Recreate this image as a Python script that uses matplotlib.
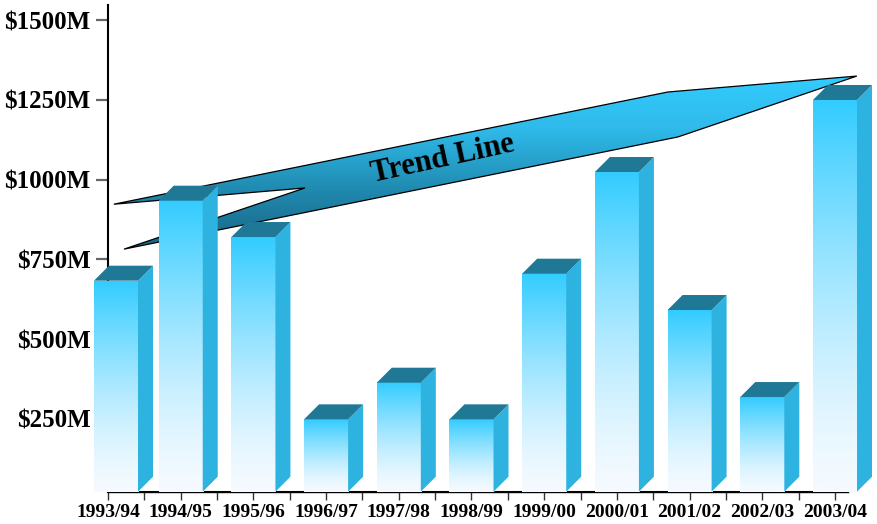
"""
Annual spend by season, drawn as pseudo-3D columns with a ribbon trend band.
"""

import matplotlib
matplotlib.use('Agg')
import matplotlib.pyplot as plt
import numpy as np
from matplotlib.colors import LinearSegmentedColormap
from matplotlib.patches import Polygon

plt.rcParams['font.family'] = ['Liberation Serif', 'DejaVu Serif']

# ── Data ─────────────────────────────────────────────────────────────────
seasons = ['1993/94', '1994/95', '1995/96', '1996/97', '1997/98', '1998/99',
           '1999/00', '2000/01', '2001/02', '2002/03', '2003/04']
spend_m = [683, 934, 820, 248, 363, 248, 705, 1024, 591, 318, 1250]

y_ticks_m = [250, 500, 750, 1000, 1250, 1500]
y_tick_labels = ['$250M', '$500M', '$750M', '$1000M', '$1250M', '$1500M']

# trend ribbon outline: (category position, $M), twisted at the left end
ribbon_x = [0.08, 7.70, 10.30, 7.84, 0.22, 2.71]
ribbon_m = [923, 1275, 1325, 1134, 782, 974]

# ── Styling ──────────────────────────────────────────────────────────────
FACE_CMAP = LinearSegmentedColormap.from_list('face', ['#f5faff', '#33ccff'])
RIBBON_CMAP = LinearSegmentedColormap.from_list(
    'ribbon', [(0.0, '#186585'), (0.31, '#1f86ab'), (0.69, '#2fbaea'),
               (1.0, '#33ccff')])
SIDE_COLOR = '#2eb3e0'
TOP_COLOR = '#1f7896'
HALF_W = 0.303          # half width of a column front, category units
DEPTH_PX = 15           # 3D offset of the back faces, pixels


def px_to_data(ax, dx_px, dy_px):
    """Convert a pixel offset into data units for the current limits."""
    inv = ax.transData.inverted()
    x0, y0 = inv.transform((0, 0))
    x1, y1 = inv.transform((dx_px, dy_px))
    return x1 - x0, y1 - y0


fig = plt.figure(figsize=(8.77, 5.24), dpi=100)
ax = fig.add_axes([108 / 877, 32.3 / 524, 769 / 877, 486.7 / 524])
ax.set_xlim(0, 10.578)
ax.set_ylim(21, 1548)
floor = ax.get_ylim()[0]
ddx, ddy = px_to_data(ax, DEPTH_PX, DEPTH_PX)

# first column is nudged clear of the value axis
pos = np.arange(len(seasons), dtype=float)
pos[0] += 0.11

# ── Trend ribbon (behind the columns) ───────────────────────────────────
ribbon = Polygon(np.column_stack([ribbon_x, ribbon_m]), closed=True,
                 facecolor='none', edgecolor='black', linewidth=0.9,
                 zorder=2.2)
ax.add_patch(ribbon)
grad = np.linspace(0, 1, 256)[:, None]
rib_img = ax.imshow(grad, cmap=RIBBON_CMAP, origin='lower', aspect='auto',
                    interpolation='bilinear', zorder=2,
                    extent=[min(ribbon_x), max(ribbon_x),
                            min(ribbon_m), max(ribbon_m)])
rib_img.set_clip_path(ribbon)
ax.text(4.61, 1066, 'Trend Line', fontsize=22, fontweight='bold',
        rotation=12.3, rotation_mode='anchor', ha='center', va='center',
        zorder=2.4)

# ── Columns ──────────────────────────────────────────────────────────────
face_grad = np.linspace(0, 1, 256)[:, None] ** 1.4
for x, v in zip(pos, spend_m):
    left, right = x - HALF_W, x + HALF_W
    ax.imshow(face_grad, cmap=FACE_CMAP, origin='lower', aspect='auto',
              interpolation='bilinear', extent=[left, right, floor, v],
              zorder=3, clip_on=False)
    side = [(right, floor), (right + ddx, floor + ddy),
            (right + ddx, v + ddy), (right, v)]
    top = [(left, v), (right, v), (right + ddx, v + ddy), (left + ddx, v + ddy)]
    ax.add_patch(Polygon(side, closed=True, facecolor=SIDE_COLOR,
                         edgecolor='none', zorder=3, clip_on=False))
    ax.add_patch(Polygon(top, closed=True, facecolor=TOP_COLOR,
                         edgecolor='none', zorder=3, clip_on=False))

# floor shadow between neighbouring columns
for i in range(len(pos) - 1):
    ax.plot([pos[i] + HALF_W, pos[i + 1] - HALF_W], [floor, floor],
            color='black', linewidth=2.2, solid_capstyle='butt', zorder=2.6)

ax.set_xlim(0, 10.578)
ax.set_ylim(21, 1548)

# ── Axes ─────────────────────────────────────────────────────────────────
for side_name in ('top', 'right'):
    ax.spines[side_name].set_visible(False)
ax.spines['left'].set_linewidth(1.5)
ax.spines['bottom'].set_linewidth(1.0)
ax.spines['bottom'].set_bounds(0, 10.18)

ax.set_xticks(pos.round(0), labels=seasons)
ax.set_xticks(np.arange(len(seasons) - 1) + 0.5, minor=True)
ax.tick_params(axis='x', which='both', direction='out', length=6,
               width=1, color='#333333')
ax.tick_params(axis='x', which='major', pad=3, labelsize=14)

ax.set_yticks(y_ticks_m, labels=y_tick_labels)
ax.tick_params(axis='y', direction='out', length=8.6, width=1.6,
               color='#666666', pad=4, labelsize=18)

for lbl in ax.get_xticklabels() + ax.get_yticklabels():
    lbl.set_fontweight('bold')

fig.savefig('out.png', dpi=100)
plt.close(fig)
